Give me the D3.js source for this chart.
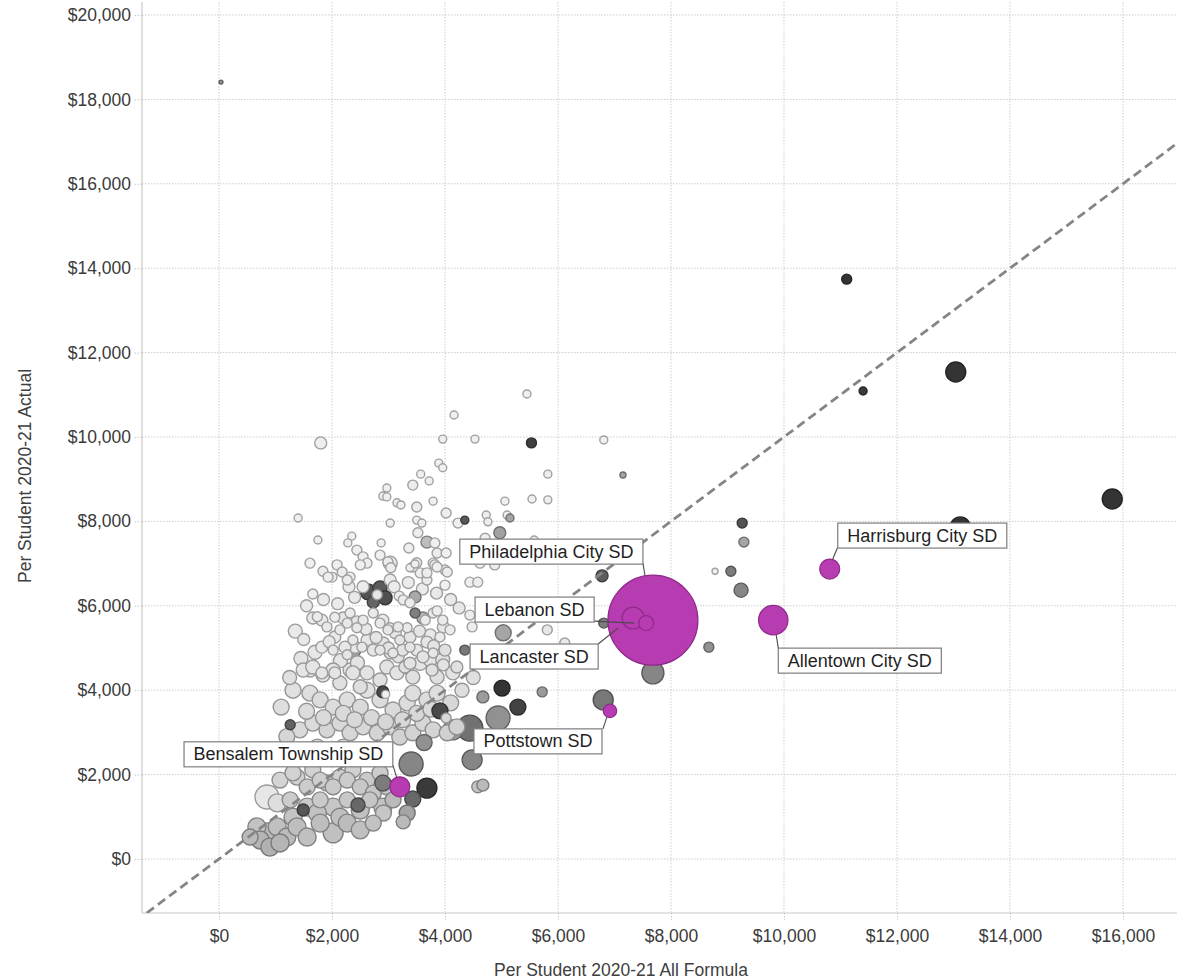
<!DOCTYPE html>
<html><head><meta charset="utf-8">
<script src="https://cdn.jsdelivr.net/npm/d3@7"></script>
<style>
body{margin:0;background:#fff;}
svg{display:block;font-family:"Liberation Sans",Arial,Helvetica,sans-serif;}
</style></head><body>
<svg id="chart" width="1177" height="980"></svg>
<script>
// ---------- DATA ----------
const xTicks = [0,2000,4000,6000,8000,10000,12000,14000,16000];
const yTicks = [0,2000,4000,6000,8000,10000,12000,14000,16000,18000,20000];
const xTitle = "Per Student 2020-21 All Formula";
const yTitle = "Per Student 2020-21 Actual";

// rows: [per-student formula, per-student actual, enrollment, shade 0-100]
const upperCloud = [
[1800,9860,2300,4],[1400,8080,1030,4],[1750,7560,1030,4],[4160,10520,1030,4],[5450,11020,1030,4],[3960,9950,1030,4],[4530,9950,1030,4],[5820,9120,1030,5],[3890,9380,1030,4],[3960,9270,1030,4],
[3570,9120,1030,4],[3430,8860,1600,5],[3720,8960,1030,4],[2970,8790,1030,4],[2900,8600,1030,4],[2970,8580,1030,4],[3150,8440,1030,5],[3220,8390,1030,4],[3500,8340,1600,5],[3790,8480,1030,4],
[4020,8200,1600,5],[3030,7960,1030,4],[3500,8030,1030,4],[3590,7960,1030,5],[4230,7960,1600,4],[4730,8150,1030,5],[4760,7990,1030,5],[5060,8480,1030,4],[5100,8150,1030,4],[5540,8530,1030,4],
[2350,7650,1030,4],[2280,7490,1030,5],[2440,7320,1600,5],[2550,7160,1600,4],[2620,7010,1600,5],[2870,7490,1030,4],[2850,7200,1600,4],[3030,7010,3150,8],[3360,7370,1600,4],[3520,7730,1600,5],
[3820,7490,1600,4],[3860,7250,1600,5],[3790,7010,1600,4],[4020,7250,1600,4],[1610,7010,1600,4],[1840,6820,1600,5],[2090,6970,1600,4],[3380,6900,1030,4],[3470,6990,1030,5],[4410,7440,1600,4],
[4620,7010,1600,5],[4710,7600,1600,4],[4880,6970,1600,5],[2000,6680,1600,5],[1660,6280,1600,4],[2180,6800,1600,5],[2320,6680,1600,4],[2300,6450,2300,6],[2990,7040,1600,5],[3030,6610,2300,6],
[3500,7020,1600,5],[3560,6780,1600,4],[3680,6610,1600,6],[3190,6230,1600,5],[3260,6140,1600,6],[4000,6850,1600,4],[3820,6970,1600,5],[4000,6490,1600,4],[4440,6560,1600,4],[4580,6560,1600,5],
[3790,5830,1600,6],[4440,5780,1600,5],[4480,5500,1600,5],[3970,5500,2300,8],[3910,5260,1600,6],[3740,5310,2300,7],[4090,5430,1600,6],[1930,6680,1600,5],[2270,6610,1600,5],[2500,6970,1600,4],
[3040,6900,1600,5],[3430,6920,1600,4],[3680,6780,1600,5],[3860,6920,1600,4],[4040,6800,1600,5],[3380,6070,1600,6],[3650,5660,1600,6],[3860,5880,1600,5],[3960,5660,1600,6],[5580,7560,1030,5],
[5770,7090,1030,5],[5810,5430,1600,8],[6120,5120,1600,6],[6810,9930,1030,4],[5820,8510,1030,4]
];
const middleCloud = [
[1660,5710,2300,7],[1820,5660,2300,7],[2050,5730,1600,6],[2200,5710,2300,8],[2320,5830,1600,6],[2440,5620,2300,8],[2550,5660,1600,7],[2900,5660,2300,7],[3030,5480,1600,8],[3120,5360,2300,9],
[3330,5480,1600,7],[3380,5260,2300,9],[3680,5140,2300,9],[3500,4950,2300,9],[3610,4790,2300,10],[3790,4880,1600,8],[1610,4480,3150,9],[1820,4410,2300,9],[2050,4410,2300,9],[2320,4480,3150,10],
[2410,5020,2300,8],[2230,5020,2300,8],[1820,5020,2300,7],[2050,5260,2300,7],[2620,5190,2300,8],[2730,4950,2300,9],[2910,5120,2300,9],[3030,4880,2300,10],[3170,4790,2300,10],[3290,4550,2300,11],
[3380,4640,2300,10],[3770,4480,2300,11],[3970,4600,2300,10],[4210,4550,2300,11],[1740,5740,1600,6],[1910,5500,1600,7],[2140,5430,1600,7],[2270,5590,1600,7],[2440,5480,1600,7],[2370,5190,1600,8],
[2530,5020,1600,8],[2020,4950,1600,8],[2270,4840,1600,9],[2730,5830,1600,7],[2850,5590,1600,7],[2990,5430,1600,8],[3170,5500,1600,8],[3200,5190,1600,9],[3380,5020,1600,9],[3080,4880,1600,9],
[2850,4950,1600,9],[1500,5200,2300,7],[1700,4900,3150,8],[1950,5150,2300,8],[2150,4700,3150,9],[2450,4650,3150,10],[2600,5450,2300,8],[2780,5250,2300,9],[3000,5000,2300,10],[3250,4950,2300,10],
[3550,5400,2300,9],[3800,5050,2300,10],[4000,4950,2300,11],[1550,6000,2300,6],[1850,6150,2300,6],[2100,6050,2300,6],[2400,6200,2300,7],[2550,6450,2300,6],[3100,6450,2300,6],[3350,6550,2300,6],
[3600,6400,2300,6],[3850,6300,2300,7],[4100,6150,2300,7],[4250,5950,2300,8],[1350,5400,3150,7],[1450,4750,3150,9],[1250,4300,3150,11]
];
const centralBand = [
[1490,4480,3150,9],[1660,4550,3150,9],[1840,4360,3150,10],[2020,4480,3150,10],[2140,4170,3150,11],[2370,4410,3150,10],[2500,4080,3150,12],[2620,4410,3150,10],[2850,4240,3150,11],[2970,4550,3150,10],
[3150,4410,3150,10],[3330,4550,3150,10],[3430,4310,3150,11],[3560,4640,3150,9],[3740,4720,3150,9],[3860,4310,3150,11],[3960,4720,3150,10],[4140,4410,3150,10],[1310,4000,4100,11],[1610,3930,4100,12],
[1790,3770,4100,13],[2020,3600,4100,13],[2270,3770,4100,12],[2500,3600,4100,14],[2620,4000,4100,11],[2850,3770,4100,13],[3080,3530,4100,14],[3330,3700,4100,13],[3430,3930,4100,12],[3680,3770,4100,13],
[3860,3930,4100,12],[1430,3060,4100,14],[1660,3220,4100,14],[1910,3060,4100,16],[2140,3220,4100,15],[2320,2990,4100,16],[2550,3130,4100,15],[2800,2990,4100,17],[3030,3130,4100,16],[3200,2890,4100,18],
[3430,2990,4100,18],[3610,3220,4100,16],[3790,3060,4100,17],[4040,2990,4100,19],[4210,3130,4100,18],[1100,3600,4100,12],[1200,2900,4100,16],[1550,3500,4100,13],[1850,3350,4100,14],[2200,3450,4100,14],
[2400,3300,4100,15],[2700,3350,4100,15],[2950,3250,4100,16],[3250,3300,4100,15],[3500,3450,4100,15],[3750,3550,4100,14],[4100,3700,4100,15],[4300,4000,3150,12],[4500,4300,3150,11]
];
const lowerBand = [
[1260,2580,4100,16],[1490,2420,4100,17],[1740,2650,4100,15],[1960,2510,4100,17],[2200,2650,4100,16],[2440,2420,4100,19],[2670,2580,4100,18],[1380,1940,4100,19],[1660,2110,4100,18],[1910,1800,4100,21],
[2140,1940,4100,20],[2370,2110,4100,19],[2620,1870,4100,22],[2850,2040,4100,21],[1080,1870,4100,17],[1310,2040,4100,18],[1560,1710,4100,21],[1790,1870,4100,20],[2020,1710,4100,22],[2270,1870,4100,21],
[2500,1710,4100,23],[2730,1560,4100,24],[2970,1710,4100,23],[850,1470,9250,8],[1030,1330,5200,12],[1260,1400,4100,21],[1560,1230,5200,22],[1790,1400,4100,22],[2020,1230,5200,24],[2270,1400,4100,23],
[2500,1230,5200,25],[2670,1400,4100,24],[2900,1230,5200,26],[3080,1400,4100,30],[1310,990,5200,25],[1740,1090,5200,26],[2140,990,5200,27],[2500,1160,5200,27],[2910,1090,4100,24],[670,760,5200,26],
[850,620,6400,30],[1030,760,5200,27],[1200,520,5200,30],[1380,760,5200,28],[1560,520,5200,27],[1790,850,5200,28],[2020,620,6400,27],[2270,850,5200,29],[2500,690,5200,27],[2730,850,4100,26],
[730,450,5200,32],[900,280,5200,34],[1080,380,5200,32],[550,520,4100,30]
];
const darkerDistricts = [
[5530,9860,1600,90],[4350,8030,1030,78],[5150,8080,1030,40],[4970,7730,2300,42],[3680,7510,2300,28],[2640,6330,4100,80],[2850,6420,3150,76],[2940,6190,3150,82],[2730,6090,2300,72],[2800,6260,1600,8],
[3470,6210,2300,38],[3470,5830,1600,58],[3610,5710,2300,32],[4350,4950,1600,62],[2370,4950,4100,45],[2900,3960,2300,85],[2950,3900,1030,3],[1260,3180,1600,72],[1490,1160,2300,78],[2460,1280,3150,70],
[3400,2250,9250,55],[3680,1680,6400,92],[3430,1420,4100,70],[3330,1090,4100,40],[3260,880,3150,30],[2900,1800,4100,60],[3630,2760,4100,50],[4140,3060,6400,45],[3910,3510,4100,85],[4440,3100,10850,65],
[4480,2350,6400,55],[4580,1710,2300,25],[4670,1750,2300,30],[4670,3840,2300,45],[4940,3340,9250,50],[5010,4050,4100,95],[5290,3600,4100,88],[5720,3960,1600,45],[4020,3340,1600,15],[5030,5360,4100,40],
[6780,6710,2300,75],[6810,5590,1600,60],[7680,4410,7750,55],[6800,3770,6400,62],[8670,5020,1600,50],[9260,7960,1600,80],[9290,7510,1600,40],[8780,6820,580,3],[9060,6820,1600,60],[9240,6370,3150,55],
[7150,9100,580,40]
];
const outliers = [
[35,18410,250,50],[11110,13740,1600,95],[13040,11540,6400,95],[11400,11090,1030,92],[15810,8530,6400,95],[13120,7870,6400,95]
];

const highlightNames = ["Philadelphia City SD","Allentown City SD","Lancaster SD","Harrisburg City SD","Bensalem Township SD","Lebanon SD","Pottstown SD"];
const highlightFormula = [7680,9810,7330,10810,3200,7560,6920];
const highlightActual = [5660,5660,5710,6870,1710,5590,3510];
const highlightEnrollment = [130000,13900,7750,6400,6400,3600,2900];

// ---------- LAYOUT / STYLE ----------
const svg = d3.select("#chart");
const L = 142, R = 1177, T = 2, B = 913;
const x = d3.scaleLinear().domain([-1363,16956]).range([L,R]);
const y = d3.scaleLinear().domain([-1280,20308]).range([B,T]);
const r = d3.scaleSqrt().domain([0,130000]).range([0,45]);
const shadeColor = d3.scaleLinear().domain([0,100]).range(["#f7f7f7","#2a2a2a"]).interpolate(d3.interpolateRgb);
const fmt = d3.format("$,");
const font = '"Liberation Sans",Arial,Helvetica,sans-serif';

svg.append("defs").append("clipPath").attr("id","plotclip")
  .append("rect").attr("x",L).attr("y",T).attr("width",R-L).attr("height",B-T);

// gridlines
const grid = svg.append("g");
grid.selectAll("line.gy").data(yTicks).join("line")
  .attr("x1",L).attr("x2",R).attr("y1",d=>y(d)).attr("y2",d=>y(d))
  .attr("stroke","#cdcdcd").attr("stroke-width",1).attr("stroke-dasharray","1.5,1.5");
grid.selectAll("line.gx").data(xTicks).join("line")
  .attr("y1",T).attr("y2",B).attr("x1",d=>x(d)).attr("x2",d=>x(d))
  .attr("stroke","#cdcdcd").attr("stroke-width",1).attr("stroke-dasharray","1.5,1.5");

// axes
const yAxis = svg.append("g").attr("transform",`translate(${L},0)`)
  .call(d3.axisLeft(y).tickValues(yTicks).tickFormat(fmt).tickSize(9).tickPadding(2));
const xAxis = svg.append("g").attr("transform",`translate(0,${B})`)
  .call(d3.axisBottom(x).tickValues(xTicks).tickFormat(fmt).tickSize(7).tickPadding(6));
[yAxis,xAxis].forEach(a=>{
  a.select(".domain").remove();
  a.selectAll(".tick line").attr("stroke","#c8c8c8").attr("stroke-dasharray","1.5,1.5");
  a.selectAll(".tick text").attr("fill","#3a3a3a").style("font-size","17.5px").style("font-family",font);
});
xAxis.selectAll(".tick text").attr("dy","0.9em");
svg.append("line").attr("x1",L).attr("x2",L).attr("y1",T).attr("y2",B).attr("stroke","#c9c9c9").attr("stroke-width",1.2);
svg.append("line").attr("x1",L).attr("x2",R).attr("y1",B).attr("y2",B).attr("stroke","#c9c9c9").attr("stroke-width",1.2);

// axis titles
svg.append("text").attr("x",621).attr("y",976).attr("text-anchor","middle")
  .attr("fill","#404040").style("font-size","17.5px").text(xTitle);
svg.append("text").attr("transform","translate(31,476) rotate(-90)").attr("text-anchor","middle")
  .attr("fill","#404040").style("font-size","17.5px").text(yTitle);

// points
const plot = svg.append("g").attr("clip-path","url(#plotclip)");
const rows = [].concat(upperCloud,middleCloud,centralBand,lowerBand,darkerDistricts,outliers)
  .map(d=>({fx:d[0],ay:d[1],en:d[2],sh:d[3]}))
  .sort((a,b)=>b.en-a.en);
plot.selectAll("circle.pt").data(rows).join("circle")
  .attr("cx",d=>x(d.fx)).attr("cy",d=>y(d.ay)).attr("r",d=>Math.max(1.8,r(d.en)))
  .attr("fill",d=>shadeColor(d.sh))
  .attr("stroke",d=>d3.color(shadeColor(d.sh)).darker(1.1))
  .attr("stroke-width",1.4);

// reference line y = x
const lo = Math.max(x.domain()[0],y.domain()[0]);
const hi = Math.min(x.domain()[1],y.domain()[1]);
plot.append("line").attr("x1",x(lo)).attr("y1",y(lo)).attr("x2",x(hi)).attr("y2",y(hi))
  .attr("stroke","#858585").attr("stroke-width",2.8).attr("stroke-dasharray","9,5");

// highlighted districts
const hl = highlightNames.map((n,i)=>({name:n,fx:highlightFormula[i],ay:highlightActual[i],en:highlightEnrollment[i]}))
  .sort((a,b)=>b.en-a.en);
plot.selectAll("circle.hl").data(hl).join("circle")
  .attr("cx",d=>x(d.fx)).attr("cy",d=>y(d.ay)).attr("r",d=>r(d.en))
  .attr("fill","#b83cb1").attr("stroke","#8f2a8a").attr("stroke-width",1.2);

// labels (box placement relative to each mark)
const place = {
  "Philadelphia City SD":{side:"right",ex:-10,top:-81,l1:[-10,-57],l2:[-8,-45]},
  "Lebanon SD":{side:"right",ex:-52,top:-26,l1:[-52,-2],l2:[-12,0]},
  "Lancaster SD":{side:"right",ex:-35,top:26,l1:[-35,26],l2:[-15,10]},
  "Pottstown SD":{side:"right",ex:-8,top:18,l1:[-7,18],l2:[-3,6]},
  "Bensalem Township SD":{side:"right",ex:-7,top:-45,l1:[-7,-22],l2:[-3,-9]},
  "Harrisburg City SD":{side:"left",ex:8,top:-46,l1:[8,-22],l2:[3,-10]},
  "Allentown City SD":{side:"left",ex:5,top:28,l1:[5,28],l2:[3,15]}
};
const lab = svg.append("g");
hl.forEach(d=>{
  const p = place[d.name]; const px = x(d.fx), py = y(d.ay);
  lab.append("line").attr("x1",px+p.l1[0]).attr("y1",py+p.l1[1]).attr("x2",px+p.l2[0]).attr("y2",py+p.l2[1])
    .attr("stroke","#4a4a4a").attr("stroke-width",1.1);
  const g = lab.append("g");
  const rect = g.append("rect");
  const t = g.append("text").attr("fill","#1f1f1f").style("font-size","18px").text(d.name);
  const w = t.node().getComputedTextLength() + 19, h = 25;
  const left = p.side==="right" ? px+p.ex-w : px+p.ex;
  const top = py+p.top;
  rect.attr("x",left).attr("y",top).attr("width",w).attr("height",h)
    .attr("fill","#fff").attr("stroke","#7d7d7d").attr("stroke-width",1.2);
  t.attr("x",left+9.5).attr("y",top+18.5);
});
</script>
</body></html>
